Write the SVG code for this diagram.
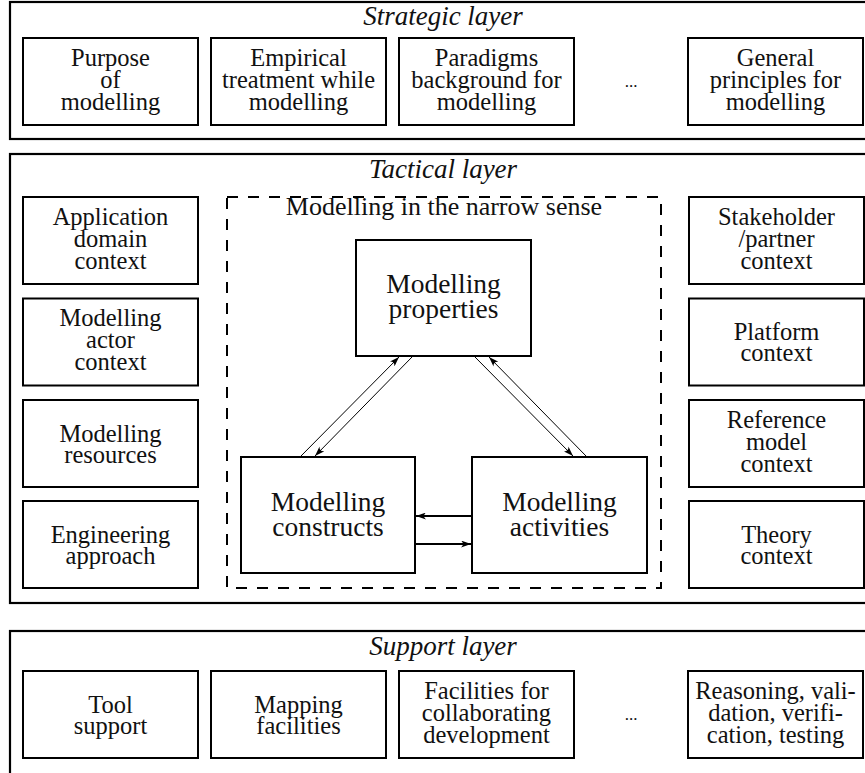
<svg xmlns="http://www.w3.org/2000/svg" width="865" height="773" viewBox="0 0 865 773">
<defs>
<style>
.layer{fill:none;stroke:#000;stroke-width:2.2}
.box{fill:#fff;stroke:#000;stroke-width:2}
.dash{fill:none;stroke:#000;stroke-width:2;stroke-dasharray:11 10}
text{font-family:"Liberation Serif","Times New Roman",serif;fill:#111;text-anchor:middle}
.t{font-size:24.5px}
.n{font-size:26px}
.c{font-size:27.5px}
.title{font-size:27px;font-style:italic}
.dots{font-size:17px}
.thin{stroke:#000;stroke-width:1;fill:none}
.thick{stroke:#000;stroke-width:2;fill:none}
</style>
<marker id="ah" viewBox="0 0 10 7" refX="10" refY="3.5" markerWidth="10" markerHeight="7" markerUnits="userSpaceOnUse" orient="auto">
<path d="M0,0 Q4,3.5 0,7 L10,3.5 Z" fill="#000"/>
</marker>
</defs>

<g id="strategic-layer">
<rect class="layer" x="10" y="2" width="867" height="137"/>
<text class="title" x="443" y="25">Strategic layer</text>
</g>
<g id="purpose"><rect class="box" x="23" y="38" width="175" height="87"/><text class="t"><tspan x="110.5" y="65.5">Purpose</tspan><tspan x="110.5" y="87.5">of</tspan><tspan x="110.5" y="109.5">modelling</tspan></text></g>
<g id="empirical"><rect class="box" x="211" y="38" width="175" height="87"/><text class="t"><tspan x="298.5" y="65.5">Empirical</tspan><tspan x="298.5" y="87.5">treatment while</tspan><tspan x="298.5" y="109.5">modelling</tspan></text></g>
<g id="paradigms"><rect class="box" x="399" y="38" width="175" height="87"/><text class="t"><tspan x="486.5" y="65.5">Paradigms</tspan><tspan x="486.5" y="87.5">background for</tspan><tspan x="486.5" y="109.5">modelling</tspan></text></g>
<g id="strategic-dots"><text class="dots" x="631" y="87">...</text></g>
<g id="general"><rect class="box" x="688" y="38" width="175" height="87"/><text class="t"><tspan x="775.5" y="65.5">General</tspan><tspan x="775.5" y="87.5">principles for</tspan><tspan x="775.5" y="109.5">modelling</tspan></text></g>

<g id="tactical-layer">
<rect class="layer" x="10" y="154" width="867" height="449"/>
<text class="title" x="443" y="178">Tactical layer</text>
</g>
<g id="narrow-sense">
<rect class="dash" x="227" y="197" width="434" height="391"/>
<text class="n" x="444" y="215">Modelling in the narrow sense</text>
</g>

<g id="application"><rect class="box" x="23" y="197" width="175" height="87"/><text class="t"><tspan x="110.5" y="224.5">Application</tspan><tspan x="110.5" y="246.5">domain</tspan><tspan x="110.5" y="268.5">context</tspan></text></g>
<g id="actor"><rect class="box" x="23" y="298.5" width="175" height="87"/><text class="t"><tspan x="110.5" y="326">Modelling</tspan><tspan x="110.5" y="348">actor</tspan><tspan x="110.5" y="370">context</tspan></text></g>
<g id="resources"><rect class="box" x="23" y="400" width="175" height="87"/><text class="t"><tspan x="110.5" y="441.5">Modelling</tspan><tspan x="110.5" y="462.5">resources</tspan></text></g>
<g id="engineering"><rect class="box" x="23" y="501" width="175" height="87"/><text class="t"><tspan x="110.5" y="542.5">Engineering</tspan><tspan x="110.5" y="563.5">approach</tspan></text></g>

<g id="stakeholder"><rect class="box" x="689" y="197" width="175" height="87"/><text class="t"><tspan x="776.5" y="224.5">Stakeholder</tspan><tspan x="776.5" y="246.5">/partner</tspan><tspan x="776.5" y="268.5">context</tspan></text></g>
<g id="platform"><rect class="box" x="689" y="298.5" width="175" height="87"/><text class="t"><tspan x="776.5" y="340">Platform</tspan><tspan x="776.5" y="361">context</tspan></text></g>
<g id="reference"><rect class="box" x="689" y="400" width="175" height="87"/><text class="t"><tspan x="776.5" y="427.5">Reference</tspan><tspan x="776.5" y="449.5">model</tspan><tspan x="776.5" y="471.5">context</tspan></text></g>
<g id="theory"><rect class="box" x="689" y="501" width="175" height="87"/><text class="t"><tspan x="776.5" y="542.5">Theory</tspan><tspan x="776.5" y="563.5">context</tspan></text></g>

<g id="properties"><rect class="box" x="356" y="240" width="175" height="116"/><text class="c"><tspan x="443.5" y="293">Modelling</tspan><tspan x="443.5" y="318">properties</tspan></text></g>
<g id="constructs"><rect class="box" x="241" y="457" width="174" height="116"/><text class="c"><tspan x="328" y="511">Modelling</tspan><tspan x="328" y="536">constructs</tspan></text></g>
<g id="activities"><rect class="box" x="472" y="457" width="175" height="116"/><text class="c"><tspan x="559.5" y="511">Modelling</tspan><tspan x="559.5" y="536">activities</tspan></text></g>

<g id="connectors">
<line class="thin" x1="300" y1="457" x2="399" y2="357" marker-end="url(#ah)"/>
<line class="thin" x1="413" y1="356" x2="315" y2="456" marker-end="url(#ah)"/>
<line class="thin" x1="474" y1="356" x2="573" y2="456" marker-end="url(#ah)"/>
<line class="thin" x1="587" y1="457" x2="489" y2="357" marker-end="url(#ah)"/>
<line class="thick" x1="472" y1="516" x2="416" y2="516" marker-end="url(#ah)"/>
<line class="thick" x1="416" y1="544" x2="471" y2="544" marker-end="url(#ah)"/>
</g>

<g id="support-layer">
<rect class="layer" x="10" y="631" width="867" height="200"/>
<text class="title" x="443" y="655">Support layer</text>
</g>
<g id="tool"><rect class="box" x="23" y="671" width="175" height="87"/><text class="t"><tspan x="110.5" y="712.5">Tool</tspan><tspan x="110.5" y="733.5">support</tspan></text></g>
<g id="mapping"><rect class="box" x="211" y="671" width="175" height="87"/><text class="t"><tspan x="298.5" y="712.5">Mapping</tspan><tspan x="298.5" y="733.5">facilities</tspan></text></g>
<g id="collaborating"><rect class="box" x="399" y="671" width="175" height="87"/><text class="t"><tspan x="486.5" y="698.5">Facilities for</tspan><tspan x="486.5" y="720.5">collaborating</tspan><tspan x="486.5" y="742.5">development</tspan></text></g>
<g id="support-dots"><text class="dots" x="631" y="720">...</text></g>
<g id="reasoning"><rect class="box" x="688" y="671" width="175" height="87"/><text class="t"><tspan x="775.5" y="698.5">Reasoning, vali-</tspan><tspan x="775.5" y="720.5">dation, verifi-</tspan><tspan x="775.5" y="742.5">cation, testing</tspan></text></g>
</svg>
